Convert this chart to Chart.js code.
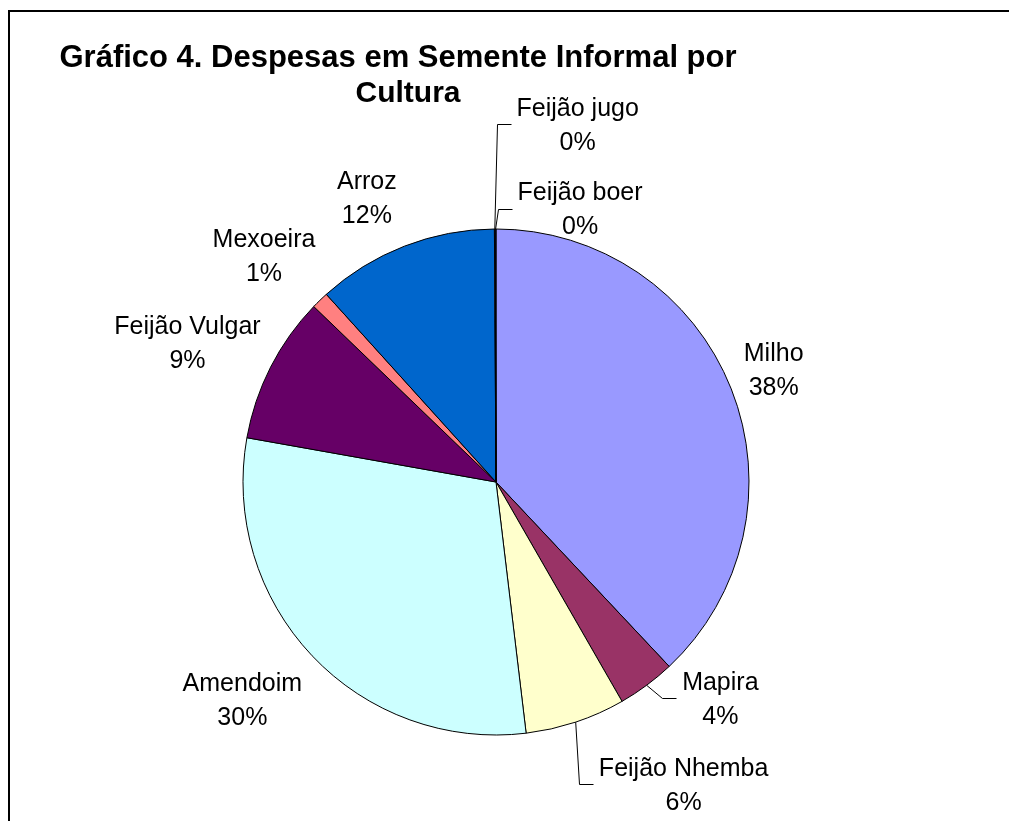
<!DOCTYPE html>
<html>
<head>
<meta charset="utf-8">
<script src="https://cdn.jsdelivr.net/npm/chart.js@4.4.0/dist/chart.umd.min.js"></script>
<style>
  html, body { margin: 0; padding: 0; background: #fff; overflow: hidden; }
  #frame { position: absolute; left: 8px; top: 10px; width: 1100px; height: 900px; border: 2px solid #000; }
  #pie { position: absolute; left: 0; top: 0; }
</style>
</head>
<body>
<div id="frame"></div>
<canvas id="pie" width="1009" height="821"></canvas>
<script>
const titleLines = ["Gráfico 4. Despesas em Semente Informal por", "Cultura"];
const crops = ["Milho", "Mapira", "Feijão Nhemba", "Amendoim", "Feijão Vulgar", "Mexoeira", "Arroz", "Feijão jugo", "Feijão boer"];
const shares = [38.0, 3.7, 6.4, 29.7, 9.4, 1.1, 11.6, 0.05, 0.05];
const colors = ["#9999FF", "#993366", "#FFFFCC", "#CCFFFF", "#660066", "#FF8080", "#0066CC", "#CCCCFF", "#000080"];

// label placement: turn (deg) away from the slice's middle, and distance as a share of the radius
const labelShift = [-0.2, -9.3, -13.3, 2.6, -2.9, -1.8, -3.3, 13.2, 17.3];
const labelDist = [1.182, 1.236, 1.413, 1.324, 1.336, 1.277, 1.229, 1.443, 1.123];
const hasLeader = [false, true, true, false, false, false, false, true, true];

const FONT = "'Liberation Sans', Arial, sans-serif";

const pieLabels = {
  id: "pieLabels",
  afterDraw(chart) {
    const ctx = chart.ctx;
    const arcs = chart.getDatasetMeta(0).data;
    const total = shares.reduce((a, b) => a + b, 0);
    ctx.save();
    ctx.fillStyle = "#000";
    ctx.strokeStyle = "#000";
    ctx.lineWidth = 1;

    // title
    ctx.textAlign = "center";
    ctx.textBaseline = "alphabetic";
    ctx.font = "bold 31px " + FONT;
    ctx.fillText(titleLines[0], 398, 67);
    ctx.font = "bold 30px " + FONT;
    ctx.fillText(titleLines[1], 408, 102);

    ctx.font = "25px " + FONT;
    ctx.textBaseline = "middle";
    arcs.forEach((arc, i) => {
      const p = arc.getProps(["x", "y", "startAngle", "endAngle", "outerRadius"], true);
      const mid = (p.startAngle + p.endAngle) / 2;
      const a = mid + labelShift[i] * Math.PI / 180;
      const lx = p.x + Math.cos(a) * labelDist[i] * p.outerRadius;
      const ly = p.y + Math.sin(a) * labelDist[i] * p.outerRadius;
      const pct = Math.round(shares[i] / total * 100) + "%";
      ctx.fillText(crops[i], lx, ly - 17);
      ctx.fillText(pct, lx, ly + 17);

      if (hasLeader[i]) {
        const w = Math.max(ctx.measureText(crops[i]).width, ctx.measureText(pct).width);
        const sx = p.x + Math.cos(mid) * p.outerRadius;
        const sy = p.y + Math.sin(mid) * p.outerRadius;
        const ex = Math.round(lx - w / 2 - 6) + 0.5;
        const ey = Math.round(ly - 2) + 0.5;
        ctx.beginPath();
        ctx.moveTo(sx, sy);
        ctx.lineTo(ex - 14, ey);
        ctx.lineTo(ex, ey);
        ctx.stroke();
      }
    });
    ctx.restore();
  }
};

new Chart(document.getElementById("pie"), {
  type: "pie",
  data: {
    labels: crops,
    datasets: [
      {
        data: shares,
        backgroundColor: colors,
        borderColor: "#000",
        borderWidth: 1,
      },
    ],
  },
  options: {
    responsive: false,
    animation: false,
    radius: 253,
    layout: { padding: { left: 236, right: 253, top: 222, bottom: 79 } },
    plugins: {
      legend: { display: false },
      tooltip: { enabled: false },
      title: { display: false },
    },
  },
  plugins: [pieLabels],
});
</script>
</body>
</html>
